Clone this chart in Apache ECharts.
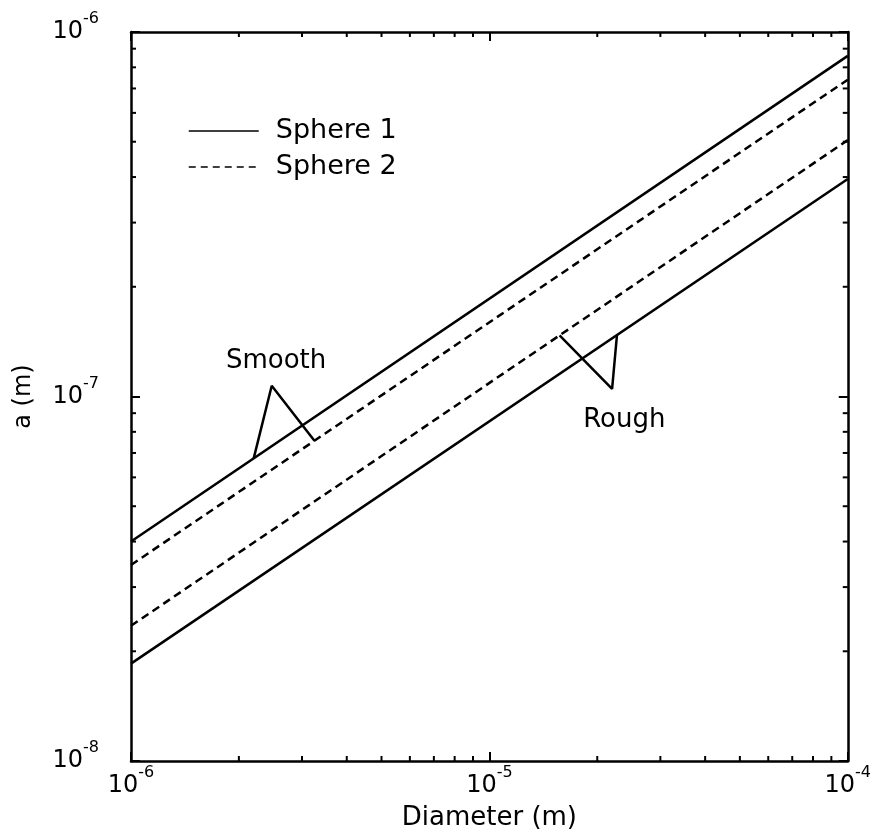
<!DOCTYPE html>
<html>
<head>
<meta charset="utf-8">
<script src="https://cdn.jsdelivr.net/npm/echarts@6/dist/echarts.min.js"></script>
<style>
  html, body { margin: 0; padding: 0; background: #ffffff; }
  #chart { width: 874px; height: 840px; }
</style>
</head>
<body>
<div id="chart"></div>
<script>
// Contact radius a versus particle diameter (log-log), end points of each line
const diameters = [1e-6, 1e-4];
const sphere1Smooth = [4.0e-8, 8.6e-7];
const sphere2Smooth = [3.45e-8, 7.4e-7];
const sphere2Rough = [2.35e-8, 5.05e-7];
const sphere1Rough = [1.85e-8, 3.95e-7];

// Axis ranges and minor tick positions
const xRange = [1e-6, 1e-4];
const yRange = [1e-8, 1e-6];
const minorMantissas = [2, 3, 4, 5, 6, 7, 8, 9];
const xMinorDecades = [1e-6, 1e-5];
const yMinorDecades = [1e-8, 1e-7];

// Callout labels and their pointer geometry (diameter of each pointer foot, apex)
const smoothText = 'Smooth';
const smoothTextAt = [2.54e-6, 1.25e-7];
const smoothFeet = [2.2e-6, 3.25e-6];
const smoothApex = [2.47e-6, 1.07e-7];
const roughText = 'Rough';
const roughTextAt = [2.38e-5, 8.6e-8];
const roughFeet = [1.57e-5, 2.27e-5];
const roughApex = [2.2e-5, 1.05e-7];

const FONT = 'DejaVu Sans';

function pairs(xs, ys) { return xs.map((x, i) => [x, ys[i]]); }

// point lying on a straight log-log line through two end points
function onLine(ys, x) {
  const slope = Math.log(ys[1] / ys[0]) / Math.log(diameters[1] / diameters[0]);
  return [x, ys[0] * Math.pow(x / diameters[0], slope)];
}

function minorTicks(decades) {
  const out = [];
  decades.forEach(d => minorMantissas.forEach(m => out.push(m * d)));
  return out;
}

function powLabel(v) {
  const e = Math.round(Math.log10(v));
  return '{b|10}{s|' + e + '}';
}

const richPow = {
  b: { fontFamily: FONT, fontSize: 24, color: '#000', lineHeight: 42 },
  s: { fontFamily: FONT, fontSize: 16, color: '#000', verticalAlign: 'top' }
};

const LW = 2.5;
const solid = { color: '#000', width: LW, type: 'solid' };
const dashed = { color: '#000', width: LW, type: [8, 5] };

function tickRenderer(dir) {
  return function (params, api) {
    const cs = params.coordSys;
    const v = api.value(dir === 'x' ? 0 : 1);
    const style = { stroke: '#000', lineWidth: 2 };
    const len = 5;
    if (dir === 'x') {
      const px = api.coord([v, yRange[0]])[0];
      return {
        type: 'group',
        children: [
          { type: 'line', shape: { x1: px, y1: cs.y + cs.height, x2: px, y2: cs.y + cs.height - len }, style },
          { type: 'line', shape: { x1: px, y1: cs.y, x2: px, y2: cs.y + len }, style }
        ]
      };
    }
    const py = api.coord([xRange[0], v])[1];
    return {
      type: 'group',
      children: [
        { type: 'line', shape: { x1: cs.x, y1: py, x2: cs.x + len, y2: py }, style },
        { type: 'line', shape: { x1: cs.x + cs.width, y1: py, x2: cs.x + cs.width - len, y2: py }, style }
      ]
    };
  };
}

function calloutText(params, api) {
  const p = api.coord([api.value(0), api.value(1)]);
  return {
    type: 'text',
    x: p[0], y: p[1],
    style: {
      text: calloutTexts[params.dataIndex],
      fontFamily: FONT, fontSize: 26, fill: '#000',
      align: 'center', verticalAlign: 'middle'
    }
  };
}
const calloutTexts = [smoothText, roughText];

const axisCommon = {
  type: 'log',
  logBase: 10,
  axisLine: { show: true, onZero: false, lineStyle: { color: '#000', width: LW } },
  axisTick: { show: true, inside: true, length: 9, lineStyle: { color: '#000', width: 2 } },
  splitLine: { show: false },
  minorTick: { show: false },
  minorSplitLine: { show: false }
};

const chart = echarts.init(document.getElementById('chart'), null, { renderer: 'canvas' });

chart.setOption({
  animation: false,
  backgroundColor: '#ffffff',
  grid: { left: 131, right: 20, top: 32, bottom: 79, containLabel: false },
  legend: {
    orient: 'vertical',
    left: 188,
    top: 116,
    padding: 0,
    itemGap: 6,
    itemWidth: 70,
    itemHeight: 14,
    selectedMode: false,
    itemStyle: { opacity: 0 },
    textStyle: { fontFamily: FONT, fontSize: 27, color: '#000', lineHeight: 30, padding: [0, 0, 0, 12] },
    data: [
      { name: 'Sphere 1', itemStyle: { opacity: 0 }, lineStyle: { width: 1.5, type: 'solid', color: '#000' } },
      { name: 'Sphere 2', itemStyle: { opacity: 0 }, lineStyle: { width: 1.5, type: [7, 5], color: '#000' } }
    ]
  },
  xAxis: [
    Object.assign({}, axisCommon, {
      position: 'bottom',
      min: xRange[0], max: xRange[1],
      name: 'Diameter (m)',
      nameLocation: 'middle',
      nameGap: 44,
      nameMoveOverlap: false,
      nameTextStyle: { fontFamily: FONT, fontSize: 26, color: '#000' },
      axisLabel: { show: true, margin: 4, fontFamily: FONT, fontSize: 24, color: '#000', formatter: powLabel, rich: richPow }
    }),
    Object.assign({}, axisCommon, {
      position: 'top',
      min: xRange[0], max: xRange[1],
      axisLabel: { show: false }
    })
  ],
  yAxis: [
    Object.assign({}, axisCommon, {
      position: 'left',
      min: yRange[0], max: yRange[1],
      name: 'a (m)',
      nameLocation: 'middle',
      nameGap: 95,
      nameMoveOverlap: false,
      nameTextStyle: { fontFamily: FONT, fontSize: 24, color: '#000' },
      axisLabel: { show: true, margin: 32, fontFamily: FONT, fontSize: 24, color: '#000', formatter: powLabel, rich: richPow }
    }),
    Object.assign({}, axisCommon, {
      position: 'right',
      min: yRange[0], max: yRange[1],
      axisLabel: { show: false }
    })
  ],
  series: [
    { name: 'Sphere 1', type: 'line', symbol: 'none', data: pairs(diameters, sphere1Smooth), lineStyle: solid, itemStyle: { color: '#000' }, silent: true },
    { name: 'Sphere 2', type: 'line', symbol: 'none', data: pairs(diameters, sphere2Smooth), lineStyle: dashed, itemStyle: { color: '#000' }, silent: true },
    { name: 'Sphere 2', type: 'line', symbol: 'none', data: pairs(diameters, sphere2Rough), lineStyle: dashed, itemStyle: { color: '#000' }, silent: true },
    { name: 'Sphere 1', type: 'line', symbol: 'none', data: pairs(diameters, sphere1Rough), lineStyle: solid, itemStyle: { color: '#000' }, silent: true },
    // callout pointers
    {
      type: 'line', symbol: 'none', silent: true,
      lineStyle: { color: '#000', width: LW },
      data: [onLine(sphere1Smooth, smoothFeet[0]), smoothApex, onLine(sphere2Smooth, smoothFeet[1])]
    },
    {
      type: 'line', symbol: 'none', silent: true,
      lineStyle: { color: '#000', width: LW },
      data: [onLine(sphere2Rough, roughFeet[0]), roughApex, onLine(sphere1Rough, roughFeet[1])]
    },
    // callout texts
    {
      type: 'custom', silent: true, renderItem: calloutText,
      data: [smoothTextAt, roughTextAt]
    },
    // minor ticks on all four sides
    {
      type: 'custom', silent: true, renderItem: tickRenderer('x'),
      data: minorTicks(xMinorDecades).map(v => [v, yRange[0]])
    },
    {
      type: 'custom', silent: true, renderItem: tickRenderer('y'),
      data: minorTicks(yMinorDecades).map(v => [xRange[0], v])
    }
  ]
});
</script>
</body>
</html>
